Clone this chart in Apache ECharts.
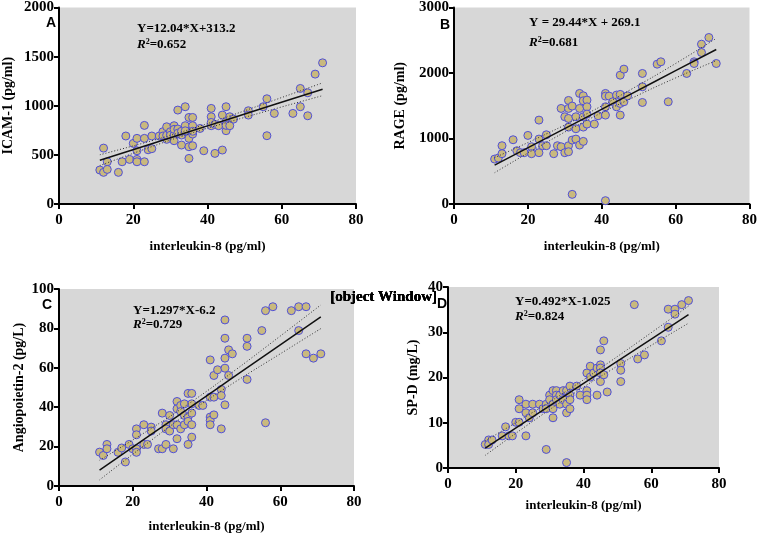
<!DOCTYPE html>
<html>
<head>
<meta charset="utf-8">
<script src="https://cdn.jsdelivr.net/npm/echarts@6/dist/echarts.min.js"></script>
<style>
  html, body { margin: 0; padding: 0; background: #fff; }
  #main { width: 760px; height: 538px; }
</style>
</head>
<body>
<div id="main"></div>
<script>
// panel A: interleukin-8 vs ICAM-1
var il8A = [11,12,12,13,13,16,17,18,19,20,21,21,21,21,23,23,23,24,25,25,27,28,28,29,29,29,30,30,31,31,31,31,32,32,32,33,33,33,34,34,34,35,35,35,35,36,36,36,36,36,38,39,41,41,41,41,42,42,43,44,44,45,45,45,45,46,46,47,51,51,55,56,56,58,63,65,65,67,67,69,71];
var icam1 = [346,322,569,430,352,322,430,692,454,617,668,542,454,430,800,668,430,552,692,563,692,736,692,786,658,700,736,700,797,702,644,760,956,763,720,702,600,740,990,797,745,881,668,583,464,881,797,712,593,740,769,542,973,888,797,830,515,810,797,905,549,990,837,746,800,888,797,864,949,905,990,1071,695,922,922,1176,990,1132,898,1322,1437];
var fitXA = [11, 25, 35, 45, 58, 71];
var fitA = [446, 614, 735, 855, 1012, 1168];
var upA = [501, 644, 757, 883, 1057, 1233];
var loA = [391, 584, 713, 827, 967, 1103];

// panel B: interleukin-8 vs RAGE
var il8B = [11,12,13,13,16,17,18,19,20,21,21,23,23,23,24,25,25,27,28,29,29,30,30,31,31,31,31,31,31,32,32,32,33,33,33,34,34,34,35,35,35,35,35,36,36,36,36,38,39,41,41,41,41,41,42,43,44,44,45,45,45,45,46,46,47,51,51,51,55,56,58,63,65,65,67,67,69,71];
var rage = [686,702,890,768,981,813,783,783,1047,874,768,1281,991,783,890,890,1057,768,890,874,1459,1332,783,1581,1459,1306,1174,890,798,1495,976,147,1332,1149,991,1688,1459,900,1652,1576,1332,1174,956,1586,1484,1373,1220,1220,1347,1688,1647,1484,1357,51,1647,1561,1663,1484,1967,1673,1535,1357,2059,1561,1652,1993,1790,1550,2135,2171,1561,1993,2171,2145,2440,2313,2542,2145];
var fitXB = [11, 25, 37, 48, 60, 71];
var fitB = [593, 1005, 1358, 1682, 2035, 2359];
var upB = [708, 1070, 1408, 1752, 2145, 2529];
var loB = [478, 940, 1308, 1612, 1925, 2189];

// panel C: interleukin-8 vs Angiopoietin-2
var il8C = [11,12,13,13,16,17,18,19,20,21,21,21,21,23,23,24,25,25,27,28,28,29,29,29,30,30,31,31,32,32,32,32,33,33,33,34,34,34,35,35,35,35,36,36,36,36,36,38,39,41,41,41,41,41,42,42,42,43,44,44,44,45,45,45,45,45,46,46,47,51,51,51,55,56,56,58,63,65,65,67,67,69,71];
var ang2 = [17.2,15.5,21.1,18.9,17.1,19.3,12.2,21.1,18.9,29,26,18.9,17.1,31.1,21.1,21.1,29.9,27.9,18.9,37,18.9,31.1,29,21.1,35.8,27.9,31.1,18.9,42.9,39.2,31.1,24,40.9,37.8,29,41.7,35.8,31.1,47,35,32.8,21.1,47,41.7,37,31.1,24.8,40.9,40.9,64,45.1,35,33.3,31.1,56.1,45.1,36.1,59,49,45.9,29,84.3,75,64.9,59.8,41.2,69.1,56.1,67.1,75,70.9,54.1,78.9,89,32.1,91,89,91,78.9,91,67.1,64.9,67.1];
var fitXC = [11, 25, 37, 48, 60, 71];
var fitC = [8.1, 26.2, 41.8, 56.1, 71.6, 85.9];
var upC = [13.1, 29.2, 44.1, 59.1, 76.1, 91.9];
var loC = [3.1, 23.2, 39.5, 53.1, 67.1, 79.9];

// panel D: interleukin-8 vs SP-D
var il8D = [11,12,12,13,16,17,18,19,20,21,21,21,23,23,23,24,25,25,27,28,29,29,29,30,30,31,31,31,31,32,32,32,33,33,34,34,35,35,35,35,36,36,36,36,38,39,41,41,41,41,42,42,43,44,44,45,45,45,45,45,46,46,47,51,51,51,55,56,58,63,65,65,67,67,69,71];
var spd = [5.2,6.2,5.2,6.2,7.1,9.1,7.1,7.1,10.1,15.1,13.1,10.1,14.1,12.2,7.1,11.1,14.1,12.2,14.1,13.1,14.1,13.1,4.1,16.1,15.1,17.1,14.1,13.1,11.1,17.1,16.1,15.1,16.1,14.1,17.1,15.1,17.1,14.1,12.2,1.2,18.1,16.1,15.1,13.1,18.1,16.1,21,17.1,16.1,15.1,22.5,20.1,21,16.1,22.1,26.1,22.8,22.1,21,19.1,28.1,20.6,16.8,23.1,21.6,19.1,36.1,24.1,25,28.1,31.1,35.1,35.1,34,36.1,37];
var fitXD = [11, 25, 37, 48, 60, 71];
var fitD = [4.4, 11.3, 17.2, 22.6, 28.5, 33.9];
var upD = [6.0, 12.3, 18.0, 23.6, 29.9, 35.8];
var loD = [2.8, 10.3, 16.4, 21.6, 27.1, 32.0];

// tick labels
var xTicks = [0, 20, 40, 60, 80];
var yTicksA = [0, 500, 1000, 1500, 2000];
var yTicksB = [0, 1000, 2000, 3000];
var yTicksC = [0, 20, 40, 60, 80, 100];
var yTicksD = [0, 10, 20, 30, 40];

var yNames = ['ICAM-1 (pg/ml)', 'RAGE (pg/ml)', 'Angiopoietin-2 (pg/L)', 'SP-D (mg/L)'];
var xName = 'interleukin-8 (pg/ml)';

var serif = 'Liberation Serif';
var grids = [
    {left: 59, top: 7, width: 297, height: 197},
    {left: 454, top: 7, width: 296, height: 197},
    {left: 59, top: 289, width: 295, height: 197},
    {left: 448, top: 287, width: 271, height: 181}
];
var xGaps = [36, 36, 34, 31];
var yGaps = [44, 47, 33, 28];

function pairs(xs, ys){
    var out = [];
    for(var i = 0; i < xs.length; i++){
        out.push([xs[i], ys[i]]);
    }
    return out;
}

var labelStyle = { color: '#000', fontFamily: serif, fontWeight: 'bold', fontSize: 15,
    showMaxLabel: true, showMinLabel: true, hideOverlap: false,
    formatter: function (v) { return String(v); } };

var axisBase = {
    axisLine: { lineStyle: { color: '#000', width: 2 } },
    splitLine: { show: false }
};

var xAxes = [], yAxes = [], series = [];
var panels = [
    [il8A, icam1, fitXA, fitA, upA, loA, yTicksA],
    [il8B, rage, fitXB, fitB, upB, loB, yTicksB],
    [il8C, ang2, fitXC, fitC, upC, loC, yTicksC],
    [il8D, spd, fitXD, fitD, upD, loD, yTicksD]
];

for(var i = 0; i < 4; i++){
    var p = panels[i];
    var yt = p[6];
    grids[i].show = true;
    grids[i].backgroundColor = '#d7d7d7';
    grids[i].borderWidth = 0;
    xAxes.push(Object.assign({}, axisBase, {
        gridIndex: i, type: 'value', min: xTicks[0], max: xTicks[xTicks.length - 1],
        name: xName, nameLocation: 'middle', nameGap: xGaps[i],
        nameTextStyle: { color: '#000', fontFamily: serif, fontWeight: 'bold', fontSize: 13 },
        axisTick: { length: 5, lineStyle: { color: '#000', width: 2 }, customValues: xTicks },
        axisLabel: Object.assign({}, labelStyle, { margin: 9, customValues: xTicks })
    }));
    yAxes.push(Object.assign({}, axisBase, {
        gridIndex: i, type: 'value', min: yt[0], max: yt[yt.length - 1],
        name: yNames[i], nameLocation: 'middle', nameGap: yGaps[i],
        nameTextStyle: { color: '#000', fontFamily: serif, fontWeight: 'bold', fontSize: 14 },
        axisTick: { length: 5, lineStyle: { color: '#000', width: 2 }, customValues: yt },
        axisLabel: Object.assign({}, labelStyle, { margin: 5, customValues: yt })
    }));
    series.push({
        type: 'scatter', xAxisIndex: i, yAxisIndex: i,
        data: pairs(p[0], p[1]), symbolSize: 8,
        itemStyle: { color: '#c9b97e', borderColor: '#4f4fd9', borderWidth: 1, opacity: 1 },
        z: 3
    });
    series.push({
        type: 'line', xAxisIndex: i, yAxisIndex: i, data: pairs(p[2], p[3]),
        showSymbol: false, smooth: true,
        lineStyle: { color: '#111', width: 1.5 }, z: 4
    });
    series.push({
        type: 'line', xAxisIndex: i, yAxisIndex: i, data: pairs(p[2], p[4]),
        showSymbol: false, smooth: true,
        lineStyle: { color: '#333', width: 1, type: [1, 2] }, z: 4
    });
    series.push({
        type: 'line', xAxisIndex: i, yAxisIndex: i, data: pairs(p[2], p[5]),
        showSymbol: false, smooth: true,
        lineStyle: { color: '#333', width: 1, type: [1, 2] }, z: 4
    });
}

var eqs = ['Y=12.04*X+313.2', 'Y = 29.44*X + 269.1', 'Y=1.297*X-6.2', 'Y=0.492*X-1.025'];
var r2s = ['0.652', '0.681', '0.729', '0.824'];
var letters = ['A', 'B', 'C', 'D'];
var eqPos = [[137, 22, 38], [529, 16, 36], [133, 304, 318], [515, 295, 310]];
var letterPos = [[46, 16], [440, 18], [42, 298], [437, 297]];

var rich = {
    i: { fontFamily: serif, fontWeight: 'bold', fontStyle: 'italic', fontSize: 13, color: '#000' },
    s: { fontFamily: serif, fontWeight: 'bold', fontSize: 8, color: '#000', verticalAlign: 'top', padding: [0, 0, 6, 0] },
    b: { fontFamily: serif, fontWeight: 'bold', fontSize: 13, color: '#000' }
};

var graphic = [];
for(var k = 0; k < 4; k++){
    graphic.push({
        type: 'text', left: eqPos[k][0], top: eqPos[k][1], z: 10,
        style: { text: eqs[k], fill: '#000', font: 'bold 13px "Liberation Serif"' }
    });
    graphic.push({
        type: 'text', left: eqPos[k][0], top: eqPos[k][2], z: 10,
        style: { text: '{i|R}{s|2}{b|=' + r2s[k] + '}', rich: rich }
    });
    graphic.push({
        type: 'text', left: letterPos[k][0], top: letterPos[k][1], z: 10,
        style: { text: letters[k], fill: '#000', font: 'bold 14px "Liberation Sans"' }
    });
}

var myChart = echarts.init(document.getElementById('main'), null, {renderer: 'canvas'});
myChart.setOption({
    backgroundColor: '#fff',
    animation: false,
    grid: grids,
    xAxis: xAxes,
    yAxis: yAxes,
    series: series,
    graphic: graphic
});

// the top y label of each panel sometimes gets dropped; if so, put it back at the
// position the panel's own scale gives for that value
function hasVisibleLabel(txt){
    var found = false;
    myChart.getZr().storage.getDisplayList(true).forEach(function (el) {
        if (el.style && String(el.style.text) === txt && !el.ignore && !el.invisible) {
            found = true;
        }
    });
    return found;
}

var extra = [];
for(var m = 0; m < 4; m++){
    var ticks = panels[m][6];
    var top = ticks[ticks.length - 1];
    if(!hasVisibleLabel(String(top))){
        var pt = myChart.convertToPixel({xAxisIndex: m, yAxisIndex: m}, [0, top]);
        extra.push({
            type: 'text', x: pt[0] - 6, y: pt[1], z: 10,
            style: { text: String(top), fill: '#000', font: 'bold 15px "Liberation Serif"',
                     textAlign: 'right', textVerticalAlign: 'middle' }
        });
    }
}
if(extra.length){
    myChart.setOption({ graphic: graphic.concat(extra) });
}
</script>
</body>
</html>
